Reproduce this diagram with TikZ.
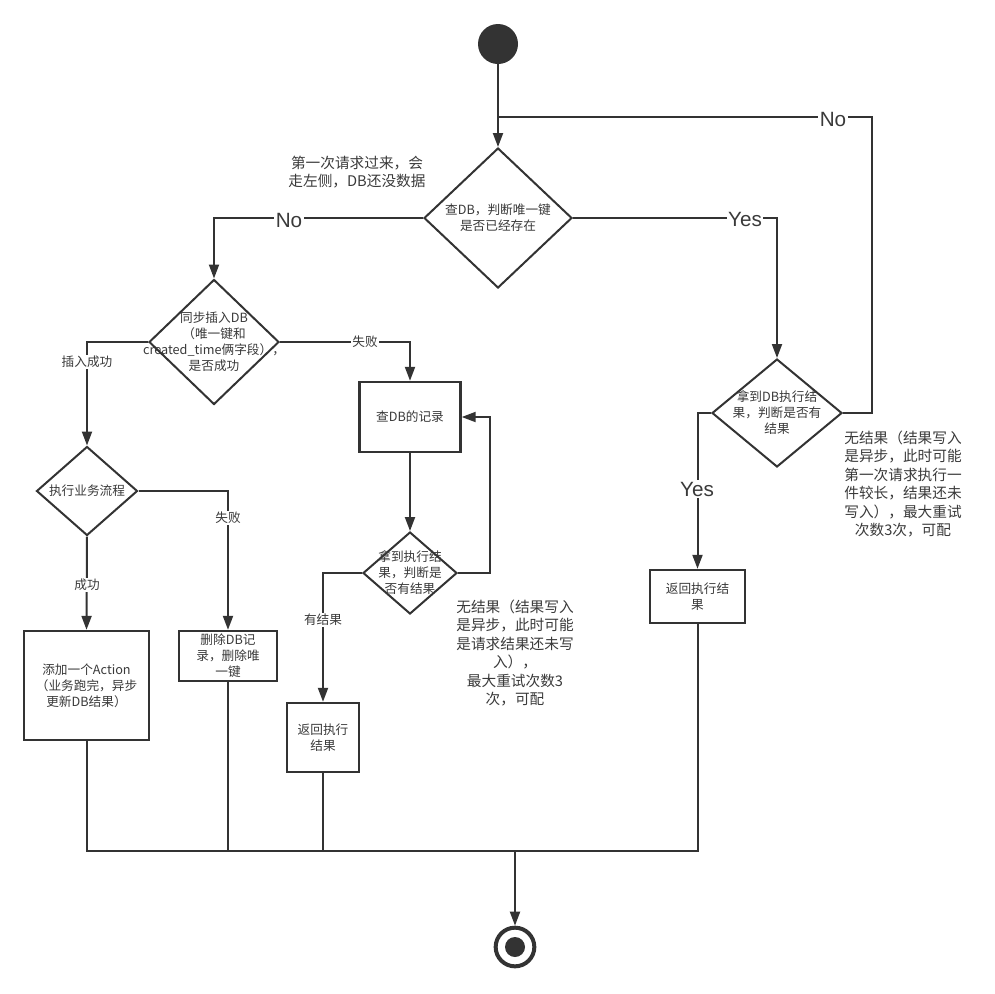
\documentclass[tikz,border=0pt]{standalone}
\usepackage{fontspec}
\setmainfont{Noto Sans CJK SC}
\newfontfamily\latinsans{Liberation Sans}
\usetikzlibrary{shapes.geometric,arrows.meta}
\definecolor{ink}{HTML}{333333}
\definecolor{txt}{HTML}{3A3A3A}

\tikzset{
  conn/.style={draw=ink, line width=1.5pt},
  flow/.style={conn, -{Triangle[length=10.5pt,width=7.5pt]}},
  dia/.style={diamond, draw=ink, line width=1.5pt, fill=white, inner sep=0pt},
  box/.style={rectangle, draw=ink, line width=1.8pt, fill=white, inner sep=0pt,
              align=center, text=txt, font=\fontsize{9.5pt}{12pt}\selectfont},
  ntext/.style={align=center, text=txt, inner sep=0pt, font=\fontsize{9.5pt}{12pt}\selectfont},
  note/.style={align=center, text=txt, inner sep=0pt, font=\fontsize{11pt}{13.8pt}\selectfont},
  elabel/.style={fill=white, text=txt, inner sep=1pt, font=\fontsize{9.5pt}{12pt}\selectfont},
  yn/.style={fill=white, text=txt, inner sep=1pt, font=\latinsans\fontsize{15.5pt}{17pt}\selectfont},
}

\begin{document}
\begin{tikzpicture}[x=0.75pt, y=-0.75pt]
\useasboundingbox (0,0) rectangle (995,993);

% start and end states
\node[circle, fill=ink, inner sep=0pt, minimum size=30pt] (s) at (498,44) {};
\node[circle, draw=ink, line width=3pt, fill=white, inner sep=0pt, minimum size=29pt] (e) at (515,947) {};
\node[circle, fill=ink, inner sep=0pt, minimum size=15pt] (ec) at (e) {};

% decisions
\node[dia, minimum width=111pt, minimum height=105pt] (d1) at (498,218) {};
\node[ntext] (t1) at (d1) {查DB，判断唯一键\\是否已经存在};

\node[dia, minimum width=97.5pt, minimum height=93.75pt] (d2) at (214,342) {};
\node[ntext] (t2) at (d2) {同步插入DB\\（唯一键和\\created\_time俩字段），\\是否成功};

\node[dia, minimum width=75.75pt, minimum height=66.75pt] (d4) at (87,491) {};
\node[ntext] (t4) at (d4) {执行业务流程};

\node[dia, minimum width=70.5pt, minimum height=61.5pt] (d5) at (410,573) {};
\node[ntext] (t5) at (d5) {拿到执行结\\果，判断是\\否有结果};

\node[dia, minimum width=97.5pt, minimum height=81pt] (d3) at (777,413) {};
\node[ntext] (t3) at (d3) {拿到DB执行结\\果，判断是否有\\结果};

% actions
\node[box, minimum width=75.75pt, minimum height=52.5pt] (q) at (410,417) {查DB的记录};
\node[box, minimum width=93.75pt, minimum height=81.75pt] (add) at (86.5,685.5) {添加一个Action\\（业务跑完，异步\\更新DB结果）};
\node[box, minimum width=73.5pt, minimum height=37.5pt] (del) at (228,656) {删除DB记\\录，删除唯\\一键};
\node[box, minimum width=54pt, minimum height=51.75pt] (r1) at (323,737.5) {返回执行\\结果};
\node[box, minimum width=71.25pt, minimum height=39.75pt] (r2) at (697.5,596.5) {返回执行结\\果};

% notes
\node[note] (n1) at (357,172) {第一次请求过来，会\\走左侧，DB还没数据};
\node[note] (n2) at (515,653) {无结果（结果写入\\是异步，此时可能\\是请求结果还未写\\入），\\最大重试次数3\\次，可配};
\node[note] (n3) at (903,484) {无结果（结果写入\\是异步，此时可能\\第一次请求执行一\\件较长，结果还未\\写入），最大重试\\次数3次，可配};

% helper points
\coordinate (loopR) at (872,117);
\coordinate (loopL) at (498,117);
\coordinate (retry) at (490,573);
\coordinate (m) at (515,851);
\coordinate (mL) at (228,851);

% connectors
\draw[flow] (s) -- (d1.north);
\draw[conn] (d3.east) -| (loopR) -- (loopL);
\draw[flow] (d1.west) -| (d2.north);
\draw[flow] (d1.east) -| (d3.north);
\draw[flow] (d2.west) -| (d4.north);
\draw[flow] (d2.east) -| (q.north);
\draw[flow] (q.south) -- (d5.north);
\draw[flow] (d5.east) -- (retry) |- (q.east);
\draw[flow] (d5.west) -| (r1.north);
\draw[flow] (d4.east) -| (del.north);
\draw[flow] (d4.south) -- (add.north);
\draw[flow] (d3.west) -| (r2.north);

% merge to end
\draw[conn] (add.south) |- (mL);
\draw[conn] (del.south) -- (mL) -- (m);
\draw[conn] (r1.south) -- (r1.south |- m);
\draw[conn] (r2.south) |- (m);
\draw[flow] (m) -- (e.north);

% connector labels
\node[yn] (lNo1) at (833,119) {No};
\node[yn] (lNo2) at (289,220) {No};
\node[yn] (lYes1) at (745,219) {Yes};
\node[yn] (lYes2) at (697,489) {Yes};
\node[elabel] (lOk) at (87,362) {插入成功};
\node[elabel] (lFail1) at (365,342) {失败};
\node[elabel] (lFail2) at (228,518) {失败};
\node[elabel] (lOk2) at (87,585) {成功};
\node[elabel] (lHas) at (323,620) {有结果};
\end{tikzpicture}
\end{document}
